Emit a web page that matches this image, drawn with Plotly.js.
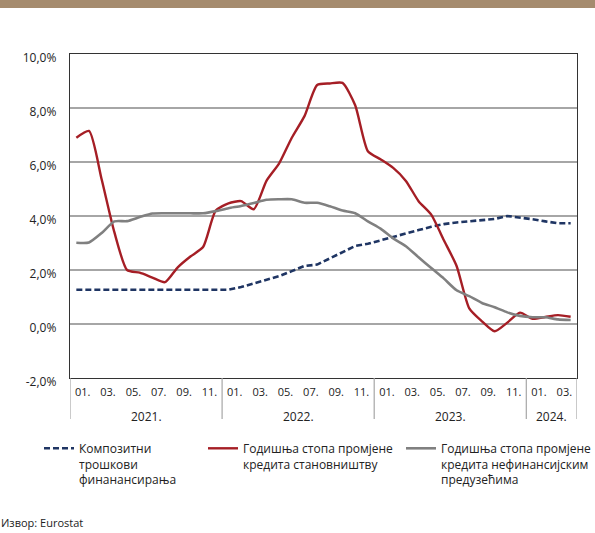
<!DOCTYPE html>
<html>
<head>
<meta charset="utf-8">
<script src="https://cdn.plot.ly/plotly-3.0.1.min.js"></script>
<style>
  html, body { margin: 0; padding: 0; background: #ffffff; }
  #chart { width: 595px; height: 533px; }
</style>
</head>
<body>
<div id="chart"></div>
<script>
// ---- data (monthly, Jan 2021 – Apr 2024) ----
const years = ['2021.', '2022.', '2023.', '2024.'];
const monthsPerYear = [12, 12, 12, 4];
const tickMonthLabels = ['01.', '03.', '05.', '07.', '09.', '11.'];
const yTickValues = [-2, 0, 2, 4, 6, 8, 10];

const seriesNames = [
  'Композитни<br>трошкови<br>финанансирања',
  'Годишња стопа промјене<br>кредита становништву',
  'Годишња стопа промјене<br>кредита нефинансијским<br>предузећима'
];

// Композитни трошкови финансирања (dashed navy)
const compositeCost = [
  1.27, 1.27, 1.27, 1.27, 1.27, 1.27, 1.27, 1.27, 1.27, 1.27, 1.27, 1.27,
  1.27, 1.37, 1.51, 1.64, 1.77, 1.96, 2.15, 2.20, 2.43, 2.66, 2.89, 2.97,
  3.10, 3.23, 3.37, 3.48, 3.60, 3.70, 3.76, 3.80, 3.85, 3.89, 4.00, 3.95,
  3.88, 3.80, 3.73, 3.73
];
// Годишња стопа промјене кредита становништву (red)
const householdLoans = [
  6.90, 7.15, 5.35, 3.40, 2.00, 1.90, 1.72, 1.55, 2.10, 2.50, 2.85, 4.20,
  4.47, 4.55, 4.25, 5.30, 5.95, 6.90, 7.70, 8.85, 8.91, 8.93, 8.10, 6.40,
  6.10, 5.78, 5.30, 4.55, 4.05, 3.10, 2.15, 0.58, 0.10, -0.27, 0.05, 0.42,
  0.19, 0.26, 0.33, 0.27
];
// Годишња стопа промјене кредита нефинансијским предузећима (grey)
const corporateLoans = [
  3.01, 3.02, 3.37, 3.80, 3.81, 3.96, 4.09, 4.10, 4.10, 4.10, 4.10, 4.18,
  4.29, 4.37, 4.48, 4.60, 4.62, 4.62, 4.49, 4.49, 4.36, 4.20, 4.10, 3.80,
  3.53, 3.17, 2.88, 2.47, 2.07, 1.68, 1.25, 1.03, 0.78, 0.62, 0.43, 0.30,
  0.25, 0.25, 0.17, 0.15
];

// ---- derived axes ----
const monthIndex = [];
const monthCategory = [];
years.forEach((y, yi) => {
  for (let m = 0; m < monthsPerYear[yi]; m++) {
    monthCategory.push(y + ' ' + String(m + 1).padStart(2, '0'));
    monthIndex.push(monthIndex.length);
  }
});
const nMonths = monthIndex.length;

// month ticks: label centred over each two-month pair
const xTickVals = [], xTickText = [];
let start = 0;
years.forEach((y, yi) => {
  tickMonthLabels.forEach((lab, k) => {
    if (2 * k < monthsPerYear[yi]) {
      xTickVals.push(start + 2 * k + 0.5);
      xTickText.push(lab);
    }
  });
  start += monthsPerYear[yi];
});

const yTickText = yTickValues.map(v => v.toFixed(1).replace('.', ',') + '%');

// ---- geometry ----
const W = 595, H = 533;
const M = { l: 70, r: 18, t: 54, b: 155, autoexpand: false };
const plotW = W - M.l - M.r, plotH = H - M.t - M.b;
const py = px => (H - M.b - px) / plotH;     // page y pixel -> paper y
const pxX = px => (px - M.l) / plotW;         // page x pixel -> paper x

const FONT = 'Open Sans, Noto Sans, DejaVu Sans, sans-serif';
const TXT = '#222222';

const traces = [
  {
    x: monthIndex, y: compositeCost, name: seriesNames[0], type: 'scatter', mode: 'lines',
    line: { color: '#1f3563', width: 2.6, dash: '6px,3px' }, legend: 'legend',
    hoverinfo: 'skip'
  },
  {
    x: monthIndex, y: householdLoans, name: seriesNames[1], type: 'scatter', mode: 'lines',
    line: { color: '#a51e25', width: 2.4, shape: 'spline', smoothing: 0.6 }, legend: 'legend2',
    hoverinfo: 'skip'
  },
  {
    x: monthIndex, y: corporateLoans, name: seriesNames[2], type: 'scatter', mode: 'lines',
    line: { color: '#808080', width: 2.6, shape: 'spline', smoothing: 0.6 }, legend: 'legend3',
    hoverinfo: 'skip'
  }
];

// year dividers and labels below the axis
const shapes = [];
const annotations = [];
let acc = 0;
const boundaries = [-0.5];
years.forEach((y, yi) => {
  const centre = acc + monthsPerYear[yi] / 2 - 0.5;
  annotations.push({
    x: centre, xref: 'x', y: py(416), yref: 'paper', text: y, showarrow: false,
    font: { family: FONT, size: 12, color: TXT }, xanchor: 'center', yanchor: 'middle'
  });
  acc += monthsPerYear[yi];
  boundaries.push(acc - 0.5);
});
boundaries.forEach(b => {
  shapes.push({
    type: 'line', xref: 'x', yref: 'paper', x0: b, x1: b, y0: 0, y1: py(419),
    line: { color: '#a6a6a6', width: 1.2 }
  });
});
// top decorative band
shapes.push({
  type: 'rect', xref: 'paper', yref: 'paper', x0: pxX(0), x1: pxX(W), y0: py(8), y1: py(0),
  fillcolor: '#a58b6e', line: { width: 0 }, layer: 'above'
});

annotations.push({
  x: pxX(-1), xref: 'paper', y: py(522), yref: 'paper', text: 'Извор: Eurostat', showarrow: false,
  font: { family: FONT, size: 11, color: TXT }, xanchor: 'left', yanchor: 'middle'
});

const legendBase = {
  orientation: 'v', xanchor: 'left', yanchor: 'top', valign: 'top',
  bgcolor: 'rgba(0,0,0,0)', borderwidth: 0, tracegroupgap: 0,
  font: { family: FONT, size: 12, color: TXT }, itemwidth: 30
};

const layout = {
  width: W, height: H, margin: M, paper_bgcolor: '#ffffff', plot_bgcolor: '#ffffff',
  font: { family: FONT, size: 12, color: TXT },
  showlegend: true,
  xaxis: {
    range: [-0.5, nMonths - 0.5], showgrid: false, zeroline: false,
    tickvals: xTickVals, ticktext: xTickText, ticks: '', ticklabelstandoff: 3,
    tickfont: { family: FONT, size: 11, color: TXT },
    showline: true, linecolor: '#333333', linewidth: 1.3, mirror: true, fixedrange: true
  },
  yaxis: {
    range: [-2, 10], tickvals: yTickValues, ticktext: yTickText, ticks: '',
    showgrid: true, gridcolor: '#a6a6a6', gridwidth: 1.2, zeroline: false,
    tickfont: { family: FONT, size: 12, color: TXT }, ticklabelstandoff: 10, ticklabelshift: 4,
    showline: true, linecolor: '#333333', linewidth: 1.3, mirror: true, fixedrange: true
  },
  legend: Object.assign({}, legendBase, { x: pxX(39), y: py(434) }),
  legend2: Object.assign({}, legendBase, { x: pxX(203), y: py(434) }),
  legend3: Object.assign({}, legendBase, { x: pxX(401), y: py(434) }),
  shapes: shapes,
  annotations: annotations
};

Plotly.newPlot('chart', traces, layout, { displayModeBar: false, staticPlot: true });
</script>
</body>
</html>
